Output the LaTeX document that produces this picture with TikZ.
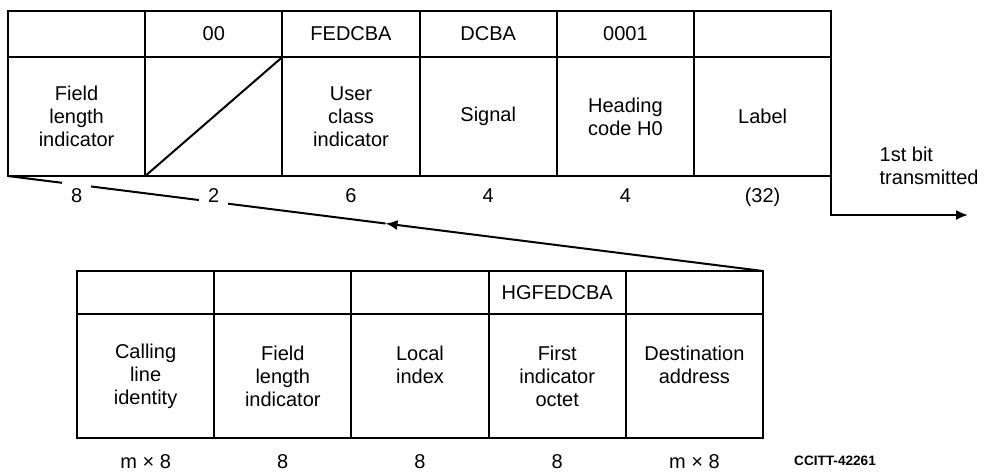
\documentclass[tikz,border=0pt]{standalone}
\usepackage{fontspec}
\setsansfont{Liberation Sans}
\usetikzlibrary{arrows.meta,positioning,calc}

\begin{document}
\begin{tikzpicture}[x=0.5pt,y=-0.5pt,>={Latex[length=6pt,width=5pt]},
  line width=1pt,
  cell/.style={rectangle,draw,outer sep=0pt,inner sep=0pt,minimum width=68.6pt,
    align=center,font=\sffamily\fontsize{10}{11.5}\selectfont},
  code/.style={cell,minimum height=23pt},
  code2/.style={cell,minimum height=21.5pt},
  field/.style={cell,minimum height=59.5pt},
  field2/.style={cell,minimum height=62pt},
  num/.style={fill=white,inner xsep=4.5pt,inner ysep=3pt,text height=7pt,text depth=0pt,
    font=\sffamily\fontsize{10}{11.5}\selectfont}]

  \useasboundingbox (0,0) rectangle (994,473);

  % upper format
  \node[code,anchor=north west] (h1) at (8,11) {};
  \node[code] (h2) [right=0pt of h1] {00};
  \node[code] (h3) [right=0pt of h2] {FEDCBA};
  \node[code] (h4) [right=0pt of h3] {DCBA};
  \node[code] (h5) [right=0pt of h4] {0001};
  \node[code] (h6) [right=0pt of h5] {};

  \node[field] (f1) [below=0pt of h1] {Field\\length\\indicator};
  \node[field] (f2) [below=0pt of h2] {};
  \node[field] (f3) [below=0pt of h3] {User\\class\\indicator};
  \node[field] (f4) [below=0pt of h4] {Signal};
  \node[field] (f5) [below=0pt of h5] {Heading\\code H0};
  \node[field] (f6) [below=0pt of h6] {Label};

  \draw (f2.south west) -- (f2.north east);

  % lower format
  \node[code2,anchor=north west] (k1) at (77,271) {};
  \node[code2] (k2) [right=0pt of k1] {};
  \node[code2] (k3) [right=0pt of k2] {};
  \node[code2] (k4) [right=0pt of k3] {HGFEDCBA};
  \node[code2] (k5) [right=0pt of k4] {};

  \node[field2] (g1) [below=0pt of k1] {Calling\\line\\identity};
  \node[field2] (g2) [below=0pt of k2] {Field\\length\\indicator};
  \node[field2] (g3) [below=0pt of k3] {Local\\index\\\mbox{}};
  \node[field2] (g4) [below=0pt of k4] {First\\indicator\\octet};
  \node[field2] (g5) [below=0pt of k5] {Destination\\address\\\mbox{}};

  % expansion of the first field
  \coordinate (mid) at ($(k5.north east)!0.5!(f1.south west)$);
  \draw[->] (k5.north east) -- (mid);
  \draw (mid) -- (f1.south west);

  % field lengths
  \node[num] (n1) [below=2.5pt of f1] {8};
  \node[num] (n2) [below=2.5pt of f2] {2};
  \node[num] (n3) [below=2.5pt of f3] {6};
  \node[num] (n4) [below=2.5pt of f4] {4};
  \node[num] (n5) [below=2.5pt of f5] {4};
  \node[num] (n6) [below=2.5pt of f6] {(32)};

  \node[num] (m1) [below=4.5pt of g1] {m × 8};
  \node[num] (m2) [below=4.5pt of g2] {8};
  \node[num] (m3) [below=4.5pt of g3] {8};
  \node[num] (m4) [below=4.5pt of g4] {8};
  \node[num] (m5) [below=4.5pt of g5] {m × 8};

  % transmission order
  \coordinate (out) at (968,215);
  \draw[->] (f6.south east) |- (out);
  \node[anchor=west,align=left,font=\sffamily\fontsize{10}{11.5}\selectfont]
    (tx) at (872,166) {1st bit\\transmitted};

  \node[font=\sffamily\bfseries\fontsize{6.8}{8}\selectfont] (ref) at (835,461) {CCITT-42261};
\end{tikzpicture}
\end{document}
